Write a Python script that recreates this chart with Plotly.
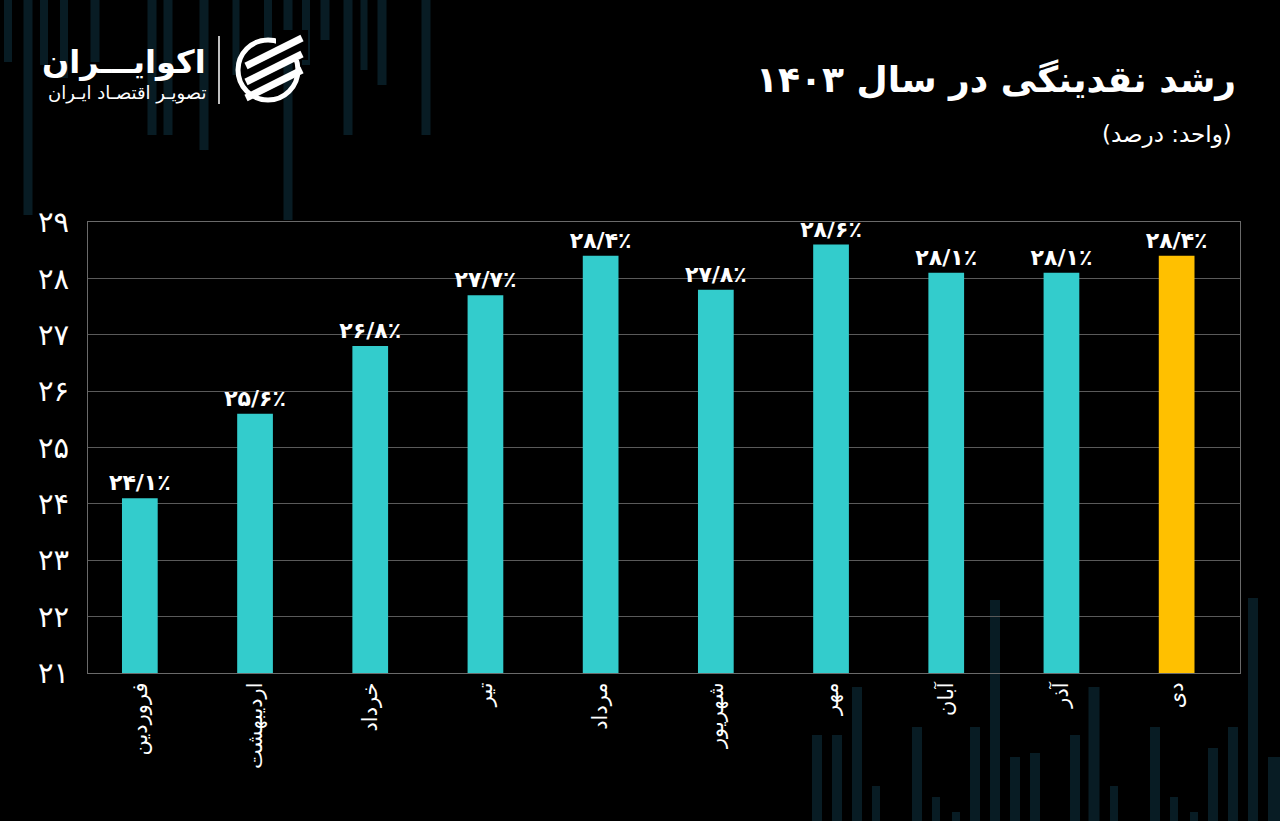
import plotly.graph_objects as go

# ---- data ----
months = ["فروردین", "اردیبهشت", "خرداد", "تیر", "مرداد", "شهریور", "مهر", "آبان", "آذر", "دی"]
growth = [24.1, 25.6, 26.8, 27.7, 28.4, 27.8, 28.6, 28.1, 28.1, 28.4]
bar_colors = ["#33CCCC"] * 9 + ["#FFC000"]
y_ticks = [21, 22, 23, 24, 25, 26, 27, 28, 29]

title_text = "رشد نقدینگی در سال ۱۴۰۳"
subtitle_text = "(واحد: درصد)"
brand_text = "اکوایـــران"
brand_sub = "تصویـر اقتصـاد ایـران"

# decorative background candles (pixel coords: x, y_top, y_bottom, width)
deco_top = [(8, 0, 62, 8), (28, 0, 215, 9), (44, 0, 65, 8), (64, 0, 78, 8), (95, 0, 62, 9),
            (152, 0, 135, 9), (168, 0, 135, 9), (204, 0, 150, 9), (236, 0, 75, 7),
            (268, 0, 40, 8), (288, 0, 220, 9), (306, 0, 65, 8), (325, 0, 40, 9),
            (348, 0, 135, 9), (364, 0, 70, 7), (382, 0, 85, 9), (426, 0, 135, 9)]
deco_bot = [(817, 735, 821, 10), (837, 735, 821, 10), (857, 687, 821, 10), (876, 786, 821, 8),
            (917, 727, 821, 10), (936, 797, 821, 8), (956, 812, 821, 8), (975, 727, 821, 10),
            (995, 600, 821, 10), (1015, 757, 821, 10), (1035, 753, 821, 10), (1075, 735, 821, 10),
            (1094, 687, 821, 11), (1114, 786, 821, 8), (1155, 727, 821, 10), (1174, 797, 821, 8),
            (1194, 812, 821, 8), (1213, 748, 821, 10), (1233, 727, 821, 10), (1253, 598, 821, 10),
            (1274, 757, 821, 12)]

W, H = 1280, 821
ML, MR, MT, MB = 88, 40, 222, 148
PW, PH = W - ML - MR, H - MT - MB
FA_DIGITS = str.maketrans("0123456789", "۰۱۲۳۴۵۶۷۸۹")


def fa(s):
    return str(s).translate(FA_DIGITS)


def px(x):
    return (x - ML) / PW


def py(y):
    return (H - MB - y) / PH


labels = [fa(f"{v:.1f}").replace(".", "/") + "٪" for v in growth]
FONT = "DejaVu Sans"

fig = go.Figure()
fig.add_trace(go.Bar(
    x=months, y=growth,
    marker=dict(color=bar_colors, line=dict(width=0)),
    width=0.31,
    text=labels, textposition="outside", constraintext="none",
    textfont=dict(color="white", size=22, family=FONT),
    texttemplate="<b>%{text}</b>",
    cliponaxis=False,
))

shapes = []
for (x, y0, y1, w) in deco_top + deco_bot:
    shapes.append(dict(type="rect", xref="paper", yref="paper", layer="below",
                       x0=px(x - w / 2), x1=px(x + w / 2), y0=py(y1), y1=py(y0),
                       fillcolor="#081c24", line=dict(width=0)))

# logo separator and icon
shapes.append(dict(type="line", xref="paper", yref="paper",
                   x0=px(219), x1=px(219), y0=py(104), y1=py(36),
                   line=dict(color="white", width=1.5)))
cx, cy, r = 268, 70, 30
shapes.append(dict(type="circle", xref="paper", yref="paper",
                   x0=px(cx - r), x1=px(cx + r), y0=py(cy + r), y1=py(cy - r),
                   line=dict(color="white", width=5)))
# black gap to open the ring at top-right like the logo
shapes.append(dict(type="rect", xref="paper", yref="paper",
                   x0=px(cx + 8), x1=px(cx + 40), y0=py(cy - 10), y1=py(cy - 40),
                   fillcolor="black", line=dict(width=0)))
for dy in (-16, 0, 16):
    shapes.append(dict(type="line", xref="paper", yref="paper",
                       x0=px(cx - 22), x1=px(cx + 34),
                       y0=py(cy + dy + 12), y1=py(cy + dy - 16),
                       line=dict(color="white", width=7)))

annotations = [
    dict(text=f"<b>{title_text}</b>", xref="paper", yref="paper", x=px(1238), y=py(80),
         xanchor="right", yanchor="middle", showarrow=False,
         font=dict(color="white", size=36, family=FONT)),
    dict(text=subtitle_text, xref="paper", yref="paper", x=px(1234), y=py(134),
         xanchor="right", yanchor="middle", showarrow=False,
         font=dict(color="white", size=23, family=FONT)),
    dict(text=f"<b>{brand_text}</b>", xref="paper", yref="paper", x=px(208), y=py(62),
         xanchor="right", yanchor="middle", showarrow=False,
         font=dict(color="white", size=32, family=FONT)),
    dict(text=brand_sub, xref="paper", yref="paper", x=px(208), y=py(93),
         xanchor="right", yanchor="middle", showarrow=False,
         font=dict(color="white", size=18, family=FONT)),
]

fig.update_layout(
    width=W, height=H,
    paper_bgcolor="black", plot_bgcolor="rgba(0,0,0,0)",
    margin=dict(l=ML, r=MR, t=MT, b=MB),
    showlegend=False,
    shapes=shapes, annotations=annotations,
    font=dict(family=FONT, color="white"),
)
fig.update_xaxes(
    range=[-0.45, 9.55], tickangle=-90, showgrid=False,
    showline=True, linecolor="#6a6a6a", linewidth=1, mirror=True,
    ticks="", tickfont=dict(size=21, color="white", family=FONT),
)
fig.update_yaxes(
    range=[21, 29], tickvals=y_ticks, ticktext=[fa(t) for t in y_ticks],
    showgrid=True, gridcolor="#5a5a5a", gridwidth=1,
    showline=True, linecolor="#6a6a6a", linewidth=1, mirror=True,
    zeroline=False, ticks="", ticklabelstandoff=12,
    tickfont=dict(size=29, color="white", family=FONT),
)

fig.write_html("out.html")
